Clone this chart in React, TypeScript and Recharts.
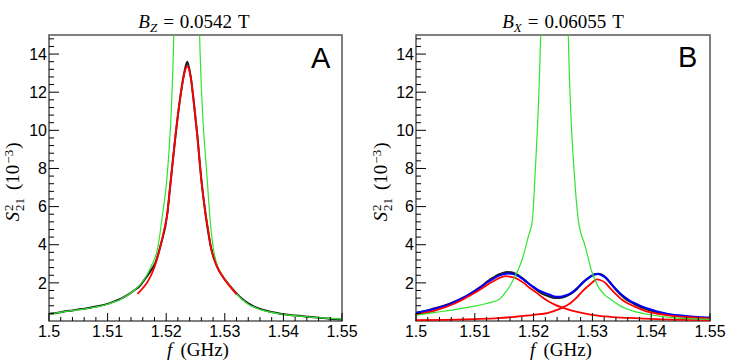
import React from "react";
import { LineChart, Line, XAxis, YAxis, ReferenceArea } from "recharts";

// ---------- axes ----------
const xMajorTicks = [1.5, 1.51, 1.52, 1.53, 1.54, 1.55];
const xTickLabels = ["1.5", "1.51", "1.52", "1.53", "1.54", "1.55"];
const xMinorTicks = [
  1.502, 1.504, 1.506, 1.508, 1.512, 1.514, 1.516, 1.518, 1.522, 1.524, 1.526, 1.528,
  1.532, 1.534, 1.536, 1.538, 1.542, 1.544, 1.546, 1.548,
];
const yMajorTicks = [2, 4, 6, 8, 10, 12, 14];
const yTickLabels = ["2", "4", "6", "8", "10", "12", "14"];
const yMinorTicks = [
  0.4, 0.8, 1.2, 1.6, 2.4, 2.8, 3.2, 3.6, 4.4, 4.8, 5.2, 5.6, 6.4, 6.8, 7.2, 7.6, 8.4, 8.8,
  9.2, 9.6, 10.4, 10.8, 11.2, 11.6, 12.4, 12.8, 13.2, 13.6, 14.4, 14.8,
];

// ---------- panel A (B_Z = 0.0542 T) ----------
const aMeasured = [
  { f: 1.5, v: 0.37 }, { f: 1.501, v: 0.41 }, { f: 1.502, v: 0.46 }, { f: 1.503, v: 0.52 },
  { f: 1.504, v: 0.55 }, { f: 1.505, v: 0.61 }, { f: 1.506, v: 0.64 }, { f: 1.507, v: 0.7 },
  { f: 1.508, v: 0.76 }, { f: 1.509, v: 0.82 }, { f: 1.51, v: 0.9 }, { f: 1.511, v: 1.01 },
  { f: 1.5122, v: 1.16 }, { f: 1.5135, v: 1.38 }, { f: 1.5145, v: 1.6 }, { f: 1.5155, v: 1.84 },
  { f: 1.5162, v: 2.13 }, { f: 1.5174, v: 2.65 }, { f: 1.5182, v: 3.09 }, { f: 1.519, v: 3.92 },
  { f: 1.5202, v: 5.65 }, { f: 1.5207, v: 7.14 }, { f: 1.5216, v: 9.76 }, { f: 1.5223, v: 11.51 },
  { f: 1.523, v: 12.9 }, { f: 1.5234, v: 13.45 }, { f: 1.5236, v: 13.6 }, { f: 1.5238, v: 13.4 },
  { f: 1.5242, v: 12.78 }, { f: 1.5247, v: 11.51 }, { f: 1.5253, v: 9.76 }, { f: 1.526, v: 7.4 },
  { f: 1.5267, v: 5.65 }, { f: 1.5276, v: 3.92 }, { f: 1.5287, v: 2.84 }, { f: 1.5295, v: 2.4 },
  { f: 1.5306, v: 1.95 }, { f: 1.532, v: 1.45 }, { f: 1.533, v: 1.15 }, { f: 1.534, v: 0.92 },
  { f: 1.535, v: 0.75 }, { f: 1.5363, v: 0.6 }, { f: 1.538, v: 0.47 }, { f: 1.5397, v: 0.37 },
  { f: 1.542, v: 0.29 }, { f: 1.5437, v: 0.24 }, { f: 1.5465, v: 0.16 }, { f: 1.548, v: 0.12 },
  { f: 1.55, v: 0.08 },
];
const aReference = [
  { f: 1.5, v: 0.36 }, { f: 1.503, v: 0.5 }, { f: 1.5066, v: 0.66 }, { f: 1.51, v: 0.88 },
  { f: 1.5122, v: 1.14 }, { f: 1.5145, v: 1.6 }, { f: 1.5162, v: 2.15 }, { f: 1.5174, v: 2.84 },
  { f: 1.5186, v: 3.9 }, { f: 1.5194, v: 5.65 }, { f: 1.5201, v: 7.4 }, { f: 1.5213, v: 15 },
  { f: 1.5225, v: 40 }, { f: 1.5236, v: 90 }, { f: 1.5247, v: 40 }, { f: 1.5257, v: 15 },
  { f: 1.527, v: 7.4 }, { f: 1.5274, v: 5.65 }, { f: 1.528, v: 3.9 }, { f: 1.5288, v: 2.84 },
  { f: 1.5295, v: 2.42 }, { f: 1.5306, v: 1.97 }, { f: 1.532, v: 1.42 }, { f: 1.534, v: 0.88 },
  { f: 1.5363, v: 0.58 }, { f: 1.5397, v: 0.36 }, { f: 1.5437, v: 0.23 }, { f: 1.5465, v: 0.16 },
  { f: 1.55, v: 0.1 },
];
const aFit = [
  { f: 1.5151, v: 1.42 }, { f: 1.516, v: 1.72 }, { f: 1.5168, v: 2.04 }, { f: 1.518, v: 2.83 },
  { f: 1.519, v: 3.9 }, { f: 1.5196, v: 4.7 }, { f: 1.5202, v: 5.65 }, { f: 1.5207, v: 7.14 },
  { f: 1.521, v: 8.0 }, { f: 1.5216, v: 9.76 }, { f: 1.5223, v: 11.51 }, { f: 1.523, v: 12.85 },
  { f: 1.5234, v: 13.3 }, { f: 1.5236, v: 13.35 }, { f: 1.5239, v: 13.2 }, { f: 1.5242, v: 12.75 },
  { f: 1.5247, v: 11.51 }, { f: 1.5253, v: 9.76 }, { f: 1.526, v: 7.4 }, { f: 1.5267, v: 5.65 },
  { f: 1.5272, v: 4.7 }, { f: 1.5276, v: 3.9 }, { f: 1.5287, v: 2.84 }, { f: 1.5297, v: 2.3 },
  { f: 1.5308, v: 1.84 }, { f: 1.532, v: 1.4 },
];

// ---------- panel B (B_X = 0.06055 T) ----------
const bMeasured = [
  { f: 1.5, v: 0.42 }, { f: 1.5016, v: 0.52 }, { f: 1.5032, v: 0.66 }, { f: 1.505, v: 0.82 },
  { f: 1.5066, v: 1.02 }, { f: 1.5083, v: 1.26 }, { f: 1.51, v: 1.58 }, { f: 1.5112, v: 1.83 },
  { f: 1.5123, v: 2.1 }, { f: 1.5132, v: 2.28 }, { f: 1.514, v: 2.42 }, { f: 1.5148, v: 2.52 },
  { f: 1.5155, v: 2.56 }, { f: 1.5162, v: 2.55 }, { f: 1.517, v: 2.46 }, { f: 1.518, v: 2.26 },
  { f: 1.5191, v: 1.98 }, { f: 1.52, v: 1.76 }, { f: 1.5208, v: 1.57 }, { f: 1.5216, v: 1.42 },
  { f: 1.5225, v: 1.31 }, { f: 1.5233, v: 1.23 }, { f: 1.524, v: 1.21 }, { f: 1.5247, v: 1.23 },
  { f: 1.5253, v: 1.27 }, { f: 1.526, v: 1.37 }, { f: 1.5265, v: 1.46 }, { f: 1.5274, v: 1.7 },
  { f: 1.5282, v: 1.96 }, { f: 1.529, v: 2.18 }, { f: 1.5299, v: 2.38 }, { f: 1.5305, v: 2.46 },
  { f: 1.531, v: 2.47 }, { f: 1.5316, v: 2.42 }, { f: 1.5322, v: 2.29 }, { f: 1.533, v: 2.02 },
  { f: 1.5339, v: 1.68 }, { f: 1.5347, v: 1.42 }, { f: 1.5356, v: 1.18 }, { f: 1.5365, v: 1.0 },
  { f: 1.5373, v: 0.86 }, { f: 1.5384, v: 0.71 }, { f: 1.5395, v: 0.59 }, { f: 1.541, v: 0.46 },
  { f: 1.5429, v: 0.34 }, { f: 1.5445, v: 0.27 }, { f: 1.5463, v: 0.22 }, { f: 1.548, v: 0.18 },
  { f: 1.55, v: 0.15 },
];
const bReference = [
  { f: 1.5, v: 0.3 }, { f: 1.5033, v: 0.45 }, { f: 1.5066, v: 0.6 }, { f: 1.51, v: 0.78 },
  { f: 1.512, v: 0.92 }, { f: 1.5141, v: 1.13 }, { f: 1.5152, v: 1.5 }, { f: 1.516, v: 1.85 },
  { f: 1.5168, v: 2.32 }, { f: 1.5176, v: 2.85 }, { f: 1.5182, v: 3.37 }, { f: 1.5191, v: 4.42 },
  { f: 1.5198, v: 5.3 }, { f: 1.5202, v: 7.4 }, { f: 1.5212, v: 15 }, { f: 1.5225, v: 40 },
  { f: 1.5236, v: 90 }, { f: 1.5247, v: 40 }, { f: 1.5259, v: 15 }, { f: 1.527, v: 7.4 },
  { f: 1.5276, v: 5.3 }, { f: 1.5288, v: 3.9 }, { f: 1.5299, v: 2.58 }, { f: 1.531, v: 1.79 },
  { f: 1.532, v: 1.4 }, { f: 1.5333, v: 1.09 }, { f: 1.5346, v: 0.82 }, { f: 1.5361, v: 0.6 },
  { f: 1.5378, v: 0.45 }, { f: 1.5395, v: 0.34 }, { f: 1.5415, v: 0.25 }, { f: 1.5435, v: 0.18 },
  { f: 1.5465, v: 0.12 }, { f: 1.55, v: 0.08 },
];
const bFitTotal = [
  { f: 1.5, v: 0.42 }, { f: 1.5032, v: 0.64 }, { f: 1.5066, v: 1.0 }, { f: 1.51, v: 1.57 },
  { f: 1.5123, v: 2.06 }, { f: 1.514, v: 2.37 }, { f: 1.515, v: 2.47 }, { f: 1.5157, v: 2.49 },
  { f: 1.5165, v: 2.46 }, { f: 1.5174, v: 2.35 }, { f: 1.5183, v: 2.17 }, { f: 1.5191, v: 1.97 },
  { f: 1.52, v: 1.78 }, { f: 1.5208, v: 1.62 }, { f: 1.5217, v: 1.5 }, { f: 1.5225, v: 1.41 },
  { f: 1.5235, v: 1.29 }, { f: 1.5243, v: 1.27 }, { f: 1.525, v: 1.3 }, { f: 1.5258, v: 1.38 },
  { f: 1.5265, v: 1.49 }, { f: 1.5274, v: 1.72 }, { f: 1.5282, v: 1.97 }, { f: 1.5291, v: 2.2 },
  { f: 1.5299, v: 2.37 }, { f: 1.5305, v: 2.45 }, { f: 1.531, v: 2.46 }, { f: 1.5316, v: 2.4 },
  { f: 1.5322, v: 2.29 }, { f: 1.533, v: 2.02 }, { f: 1.5339, v: 1.71 }, { f: 1.5347, v: 1.46 },
  { f: 1.5356, v: 1.23 }, { f: 1.5364, v: 1.06 }, { f: 1.5373, v: 0.92 }, { f: 1.5384, v: 0.77 },
  { f: 1.5395, v: 0.64 }, { f: 1.541, v: 0.5 }, { f: 1.5429, v: 0.37 }, { f: 1.5445, v: 0.3 },
  { f: 1.5463, v: 0.25 }, { f: 1.548, v: 0.21 }, { f: 1.55, v: 0.18 },
];
const bFitPeak1 = [
  { f: 1.5, v: 0.34 }, { f: 1.5032, v: 0.55 }, { f: 1.5066, v: 0.92 }, { f: 1.51, v: 1.48 },
  { f: 1.5123, v: 1.93 }, { f: 1.514, v: 2.23 }, { f: 1.5147, v: 2.32 }, { f: 1.5153, v: 2.35 },
  { f: 1.516, v: 2.33 }, { f: 1.5167, v: 2.27 }, { f: 1.5174, v: 2.18 }, { f: 1.5183, v: 2.0 },
  { f: 1.5191, v: 1.79 }, { f: 1.52, v: 1.6 }, { f: 1.5208, v: 1.41 }, { f: 1.5216, v: 1.22 },
  { f: 1.5225, v: 1.04 }, { f: 1.5236, v: 0.86 }, { f: 1.5248, v: 0.71 }, { f: 1.5265, v: 0.55 },
  { f: 1.5282, v: 0.43 }, { f: 1.5305, v: 0.3 }, { f: 1.533, v: 0.22 }, { f: 1.5361, v: 0.16 },
  { f: 1.5418, v: 0.09 }, { f: 1.55, v: 0.05 },
];
const bFitPeak2 = [
  { f: 1.5, v: 0.04 }, { f: 1.505, v: 0.06 }, { f: 1.51, v: 0.1 }, { f: 1.514, v: 0.15 },
  { f: 1.5168, v: 0.22 }, { f: 1.52, v: 0.32 }, { f: 1.5225, v: 0.43 }, { f: 1.524, v: 0.58 },
  { f: 1.5248, v: 0.69 }, { f: 1.5257, v: 0.83 }, { f: 1.5265, v: 1.0 }, { f: 1.5274, v: 1.25 },
  { f: 1.5282, v: 1.53 }, { f: 1.5291, v: 1.79 }, { f: 1.5299, v: 2.0 }, { f: 1.5304, v: 2.13 },
  { f: 1.5308, v: 2.18 }, { f: 1.5313, v: 2.15 }, { f: 1.5322, v: 2.0 }, { f: 1.533, v: 1.73 },
  { f: 1.5339, v: 1.44 }, { f: 1.5347, v: 1.2 }, { f: 1.5356, v: 1.0 }, { f: 1.5365, v: 0.85 },
  { f: 1.5373, v: 0.74 }, { f: 1.5384, v: 0.6 }, { f: 1.5395, v: 0.48 }, { f: 1.541, v: 0.38 },
  { f: 1.5429, v: 0.3 }, { f: 1.5463, v: 0.2 }, { f: 1.55, v: 0.13 },
];

const xTicks = [...xMajorTicks, ...xMinorTicks].sort((a, b) => a - b);
const yTicks = [...yMajorTicks, ...yMinorTicks].sort((a, b) => a - b);

const SANS = "'Liberation Sans', Arial, Helvetica, sans-serif";
const SERIF = "'Liberation Serif', 'Times New Roman', serif";

const findIdx = (arr: number[], v: number) => arr.findIndex((t) => Math.abs(t - v) < 1e-7);

const XTick = (props: any) => {
  const { x, y, payload } = props;
  const i = findIdx(xMajorTicks, payload.value);
  const major = i >= 0;
  return (
    <g>
      <line x1={x} x2={x} y1={y} y2={y - (major ? 8 : 4)} stroke="#000" strokeWidth={1} />
      {major && (
        <text x={x} y={y + 16} textAnchor="middle" fontSize={16} fontFamily={SANS} fill="#000">
          {xTickLabels[i]}
        </text>
      )}
    </g>
  );
};

const YTick = (props: any) => {
  const { x, y, payload } = props;
  const i = findIdx(yMajorTicks, payload.value);
  const major = i >= 0;
  return (
    <g>
      <line x1={x} x2={x + (major ? 10 : 5)} y1={y} y2={y} stroke="#000" strokeWidth={1} />
      {major && (
        <text x={x - 2} y={y} dy="0.36em" textAnchor="end" fontSize={16} fontFamily={SANS} fill="#000">
          {yTickLabels[i]}
        </text>
      )}
    </g>
  );
};

type Series = { data: { f: number; v: number }[]; color: string; width: number };

const Panel = ({ yAxisWidth, rightMargin, series }: { yAxisWidth: number; rightMargin: number; series: Series[] }) => (
  <LineChart width={374} height={362} margin={{ top: 35, right: rightMargin, bottom: 0, left: 0 }}>
    <XAxis
      type="number"
      dataKey="f"
      domain={[1.5, 1.55]}
      allowDataOverflow
      ticks={xTicks}
      interval={0}
      tickSize={0}
      tickMargin={0}
      tickLine={false}
      axisLine={false}
      height={41}
      tick={XTick}
    />
    <YAxis
      type="number"
      dataKey="v"
      domain={[0, 15]}
      allowDataOverflow
      ticks={yTicks}
      interval={0}
      tickSize={0}
      tickMargin={0}
      tickLine={false}
      axisLine={false}
      width={yAxisWidth}
      tick={YTick}
    />
    <ReferenceArea x1={1.5} x2={1.55} y1={0} y2={15} fill="none" stroke="#555" strokeWidth={1.5} />
    {series.map((s, i) => (
      <Line
        key={i}
        data={s.data}
        dataKey="v"
        type="monotone"
        stroke={s.color}
        strokeWidth={s.width}
        dot={false}
        activeDot={false}
        isAnimationActive={false}
      />
    ))}
  </LineChart>
);

const BLACK = "#1c1c1c";
const GREEN = "#2ee62e";
const RED = "#ff0000";
const BLUE = "#0000ff";

const seriesA: Series[] = [
  { data: aMeasured, color: BLACK, width: 2, },
  { data: aReference, color: GREEN, width: 1.2 },
  { data: aFit, color: RED, width: 1.8 },
];
const seriesB: Series[] = [
  { data: bMeasured, color: BLACK, width: 2.2 },
  { data: bFitTotal, color: BLUE, width: 2 },
  { data: bFitPeak1, color: RED, width: 1.8 },
  { data: bFitPeak2, color: RED, width: 1.8 },
  { data: bReference, color: GREEN, width: 1.2 },
];

const YLabel = ({ x }: { x: number }) => (
  <text transform={`translate(${x},182) rotate(-90)`} textAnchor="middle" fontFamily={SERIF} fontSize={19} fill="#000">
    <tspan fontStyle="italic">S</tspan>
    <tspan fontSize={13} dy={-6} dx={1}>2</tspan>
    <tspan fontSize={13} dy={11} dx={-6.5}>21</tspan>
    <tspan dy={-5} dx={8}>(10</tspan>
    <tspan fontSize={13} dy={-6} dx={1}>−3</tspan>
    <tspan dy={6} dx={1}>)</tspan>
  </text>
);

const Title = ({ x, sub, value }: { x: number; sub: string; value: string }) => (
  <text x={x} y={28} textAnchor="middle" fontFamily={SERIF} fontSize={19} fill="#000">
    <tspan fontStyle="italic">B</tspan>
    <tspan fontStyle="italic" fontSize={13} dy={4}>{sub}</tspan>
    <tspan dy={-4} dx={6}>=</tspan>
    <tspan dx={6}>{value}</tspan>
    <tspan dx={6}>T</tspan>
  </text>
);

const XLabel = ({ x }: { x: number }) => (
  <text x={x} y={356} textAnchor="middle" fontFamily={SERIF} fontSize={19} fill="#000">
    <tspan fontStyle="italic">f</tspan>
    <tspan dx={8}>(GHz)</tspan>
  </text>
);

export default function App() {
  return (
    <div style={{ position: "absolute", left: 0, top: 0, width: 748, height: 362, background: "#fff" }}>
      <div style={{ position: "absolute", left: 0, top: 0 }}>
        <Panel yAxisWidth={49} rightMargin={32} series={seriesA} />
      </div>
      <div style={{ position: "absolute", left: 374, top: 0 }}>
        <Panel yAxisWidth={42} rightMargin={38} series={seriesB} />
      </div>
      <svg width={748} height={362} style={{ position: "absolute", left: 0, top: 0, pointerEvents: "none" }}>
        <Title x={194} sub="Z" value="0.0542" />
        <Title x={563} sub="X" value="0.06055" />
        <YLabel x={19} />
        <YLabel x={387} />
        <XLabel x={198} />
        <XLabel x={561} />
        <text x={311} y={68} fontFamily={SANS} fontSize={29} fill="#000">A</text>
        <text x={678} y={67} fontFamily={SANS} fontSize={29} fill="#000">B</text>
      </svg>
    </div>
  );
}
